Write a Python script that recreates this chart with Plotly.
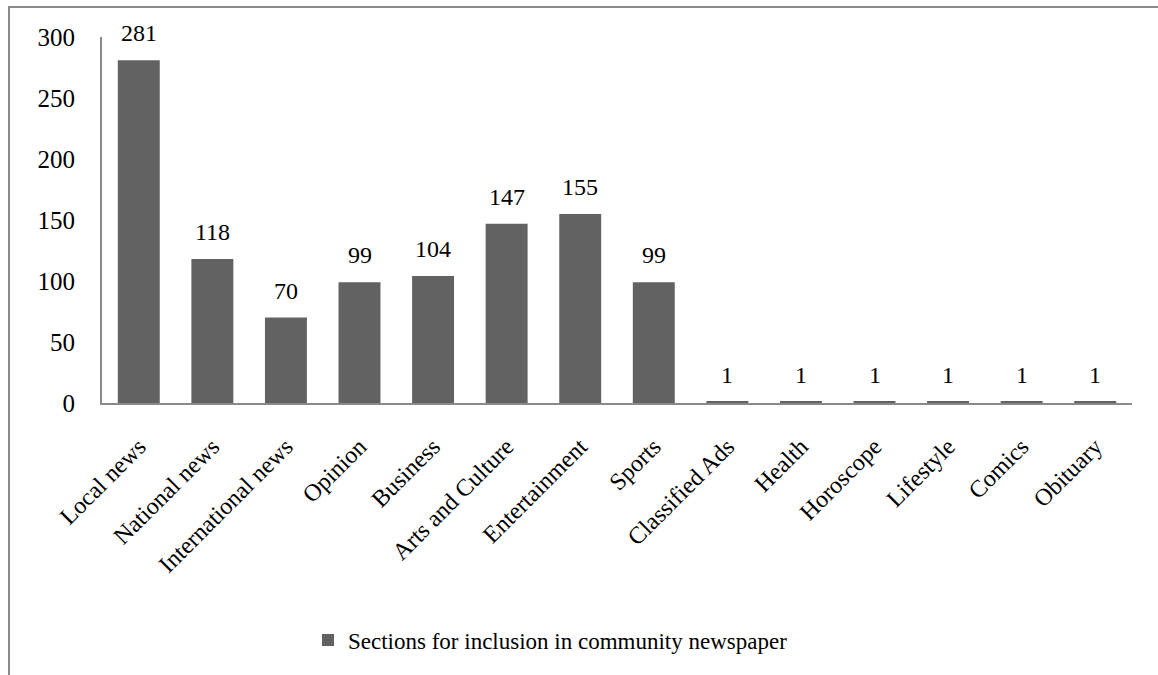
import plotly.graph_objects as go

sections = ["Local news", "National news", "International news", "Opinion", "Business",
            "Arts and Culture", "Entertainment", "Sports", "Classified Ads", "Health",
            "Horoscope", "Lifestyle", "Comics", "Obituary"]
counts = [281, 118, 70, 99, 104, 147, 155, 99, 1, 1, 1, 1, 1, 1]
y_ticks = [0, 50, 100, 150, 200, 250, 300]
series_name = "Sections for inclusion in community newspaper"

FONT = "Liberation Serif, Times New Roman, serif"
W, H = 1158, 675
ML, MR, MT, MB = 102, 26, 37, 272

fig = go.Figure()
fig.add_trace(go.Bar(
    x=sections, y=counts, name=series_name,
    marker=dict(color="#626262", line=dict(width=0)),
    showlegend=True,
))

# value labels above each bar
for s, v in zip(sections, counts):
    fig.add_annotation(x=s, y=v, text=str(v), showarrow=False,
                       yanchor="bottom", yshift=12,
                       font=dict(family=FONT, size=24, color="black"))

# outer chart frame
pw = W - ML - MR
ph = H - MT - MB
fig.add_shape(type="rect", xref="paper", yref="paper",
              x0=(9 - ML) / pw, x1=(W + 20 - ML) / pw,
              y0=(H - MB - (H + 20)) / ph, y1=(H - MB - 7) / ph,
              line=dict(color="#8a8a8a", width=2), layer="below")

fig.update_layout(
    width=W, height=H,
    margin=dict(l=ML, r=MR, t=MT, b=MB, autoexpand=False),
    paper_bgcolor="white", plot_bgcolor="white",
    font=dict(family=FONT, size=24, color="black"),
    bargap=0.43,
    xaxis=dict(showline=True, linecolor="#8a8a8a", linewidth=2, ticks="",
               tickangle=-45, showgrid=False, ticklabelstandoff=18,
               tickfont=dict(family=FONT, size=24)),
    yaxis=dict(range=[0, 300], tickvals=y_ticks, showline=True, linecolor="#8a8a8a",
               linewidth=2, showgrid=False, zeroline=False, ticks="",
               ticklabelstandoff=20, tickfont=dict(family=FONT, size=25)),
    legend=dict(orientation="h", x=(308 - ML) / pw, xanchor="left",
                y=(H - MB - 640) / ph, yanchor="middle",
                font=dict(family=FONT, size=23), itemwidth=30,
                itemsizing="constant"),
)

fig.write_html("out.html")
